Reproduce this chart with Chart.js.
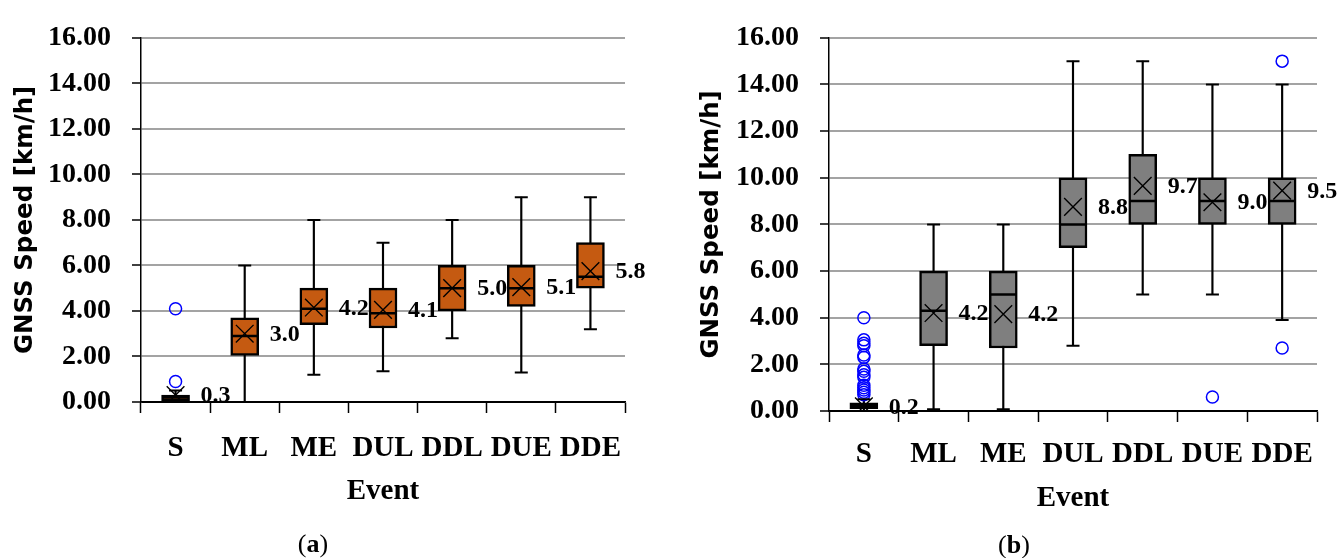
<!DOCTYPE html>
<html>
<head>
<meta charset="utf-8">
<script src="https://cdn.jsdelivr.net/npm/chart.js@4.4.1/dist/chart.umd.min.js"></script>
<style>
  body { margin: 0; background: #fff; width: 1343px; height: 558px; position: relative; overflow: hidden; }
  .panel { position: absolute; top: 0; width: 660px; height: 558px; }
  .caption { position: absolute; width: 60px; text-align: center; font-family: 'Liberation Serif', serif; font-size: 26px; line-height: 30px; color: #000; }
</style>
</head>
<body>
<div class="panel" style="left:0"><canvas id="chartA"></canvas></div>
<div class="panel" style="left:683px"><canvas id="chartB"></canvas></div>
<div class="caption" style="left:283px;top:529px">(<b>a</b>)</div>
<div class="caption" style="left:984px;top:530px">(<b>b</b>)</div>
<script>
// categories and ticks
const events = ['S', 'ML', 'ME', 'DUL', 'DDL', 'DUE', 'DDE'];
const speedTicks = [0, 2, 4, 6, 8, 10, 12, 14, 16];

// panel (a)
const minA = [0.0, 0.0, 1.2, 1.35, 2.8, 1.3, 3.2];
const q1A = [0.05, 2.05, 3.4, 3.25, 4.0, 4.2, 5.0];
const medA = [0.2, 2.9, 4.1, 3.9, 5.0, 5.0, 5.5];
const q3A = [0.3, 3.7, 5.0, 5.0, 6.0, 6.0, 7.0];
const maxA = [0.5, 6.0, 8.0, 7.0, 8.0, 9.0, 9.0];
const meanA = [0.3, 3.0, 4.15, 4.05, 5.0, 5.05, 5.75];
const meanLabelA = ['0.3', '3.0', '4.2', '4.1', '5.0', '5.1', '5.8'];
const outliersA = [['S', 0.9], ['S', 4.1]];

// panel (b)
const minB = [0.0, 0.08, 0.08, 2.8, 5.0, 5.0, 3.9];
const q1B = [0.1, 2.8, 2.7, 7.0, 8.0, 8.0, 8.0];
const medB = [0.2, 4.3, 5.0, 8.0, 9.0, 9.0, 9.0];
const q3B = [0.35, 6.0, 6.0, 10.0, 11.0, 10.0, 10.0];
const maxB = [0.5, 8.0, 8.0, 15.0, 15.0, 14.0, 14.0];
const meanB = [0.2, 4.2, 4.15, 8.75, 9.65, 8.95, 9.45];
const meanLabelB = ['0.2', '4.2', '4.2', '8.8', '9.7', '9.0', '9.5'];
const outliersB = [
  ['S', 4.0], ['S', 3.05], ['S', 2.9], ['S', 2.8], ['S', 2.4], ['S', 2.3],
  ['S', 1.8], ['S', 1.7], ['S', 1.55], ['S', 1.45], ['S', 1.1], ['S', 1.0],
  ['S', 0.9], ['S', 0.8], ['S', 0.7],
  ['DUE', 0.6], ['DDE', 15.0], ['DDE', 2.7]
];

const serif = "'Liberation Serif', 'Times New Roman', serif";

// mean value printed to the right of each box
const meanLabels = {
  id: 'meanLabels',
  afterDatasetsDraw(chart, args, opts) {
    const { ctx, scales: { x, y } } = chart;
    ctx.save();
    ctx.font = 'bold 24px ' + serif;
    ctx.fillStyle = '#000';
    ctx.textBaseline = 'middle';
    opts.means.forEach((v, i) => {
      ctx.fillText(opts.labels[i], x.getPixelForValue(i) + 25, y.getPixelForValue(v) + 1);
    });
    ctx.restore();
  }
};

function boxChart(id, p) {
  const points = (data, style, radius, width, color) => ({
    type: 'line', data: data, showLine: false, order: 0,
    pointStyle: style, pointRadius: radius, pointBorderWidth: width,
    pointBorderColor: color || '#000', pointBackgroundColor: 'rgba(0,0,0,0)'
  });
  return new Chart(document.getElementById(id), {
    type: 'bar',
    data: {
      labels: events,
      datasets: [
        { data: p.min.map((v, i) => [v, p.max[i]]), backgroundColor: '#000', barThickness: 1.5, grouped: false, order: 3 },
        { data: p.q1.map((v, i) => [v, p.q3[i]]), backgroundColor: p.fill, borderColor: '#000', borderWidth: 2.5,
          borderSkipped: false, barThickness: 28, grouped: false, order: 2 },
        points(p.min, 'line', 6.5, 2),
        points(p.max, 'line', 6.5, 2),
        points(p.med, 'line', 13, 2.5),
        points(p.mean, 'crossRot', 12.5, 1.4),
        points(p.outliers.map(o => ({ x: o[0], y: o[1] })), 'circle', 6, 1.5, '#0000ff')
      ]
    },
    options: {
      responsive: true,
      maintainAspectRatio: false,
      animation: false,
      events: [],
      layout: { padding: p.padding },
      plugins: {
        legend: { display: false },
        tooltip: { enabled: false },
        meanLabels: { means: p.mean, labels: p.labels }
      },
      scales: {
        x: {
          offset: true,
          grid: { offset: true, drawOnChartArea: false, tickLength: 11, tickColor: '#000', tickWidth: 1.5 },
          border: { color: '#000', width: 1.5 },
          ticks: { font: { family: serif, weight: 'bold', size: 29 }, color: '#000', padding: p.xPad, maxRotation: 0, autoSkip: false },
          title: { display: true, text: 'Event', color: '#000', font: { family: serif, weight: 'bold', size: 29 }, padding: 0 },
          afterFit: s => { s.height = p.xHeight; }
        },
        y: {
          min: 0, max: 16,
          afterBuildTicks: s => { s.ticks = speedTicks.map(v => ({ value: v })); },
          grid: { color: c => c.tick && c.tick.value === 0 ? '#000' : '#a3a3a3', lineWidth: 2, tickLength: 9, tickColor: '#000', tickWidth: 1.5 },
          border: { color: '#000', width: 1.5 },
          ticks: { callback: v => v.toFixed(2), font: { family: serif, weight: 'bold', size: 28 }, color: '#000', padding: 21 },
          title: { display: true, text: 'GNSS Speed [km/h]', color: '#000',
                   font: { family: 'DejaVu Sans', weight: 'bold', size: 24.5 }, padding: { top: p.titlePad, bottom: 0 } },
          afterFit: s => { s.width = p.yWidth; }
        }
      }
    },
    plugins: [meanLabels]
  });
}

boxChart('chartA', {
  min: minA, q1: q1A, med: medA, q3: q3A, max: maxA, mean: meanA, labels: meanLabelA, outliers: outliersA,
  fill: '#c55a11', padding: { left: 0, top: 31, right: 35, bottom: 49 },
  xHeight: 107, xPad: 18, yWidth: 141, titlePad: 11
});
boxChart('chartB', {
  min: minB, q1: q1B, med: medB, q3: q3B, max: maxB, mean: meanB, labels: meanLabelB, outliers: outliersB,
  fill: '#7f7f7f', padding: { left: 0, top: 26, right: 26, bottom: 42 },
  xHeight: 105, xPad: 15, yWidth: 146, titlePad: 14
});
</script>
</body>
</html>
